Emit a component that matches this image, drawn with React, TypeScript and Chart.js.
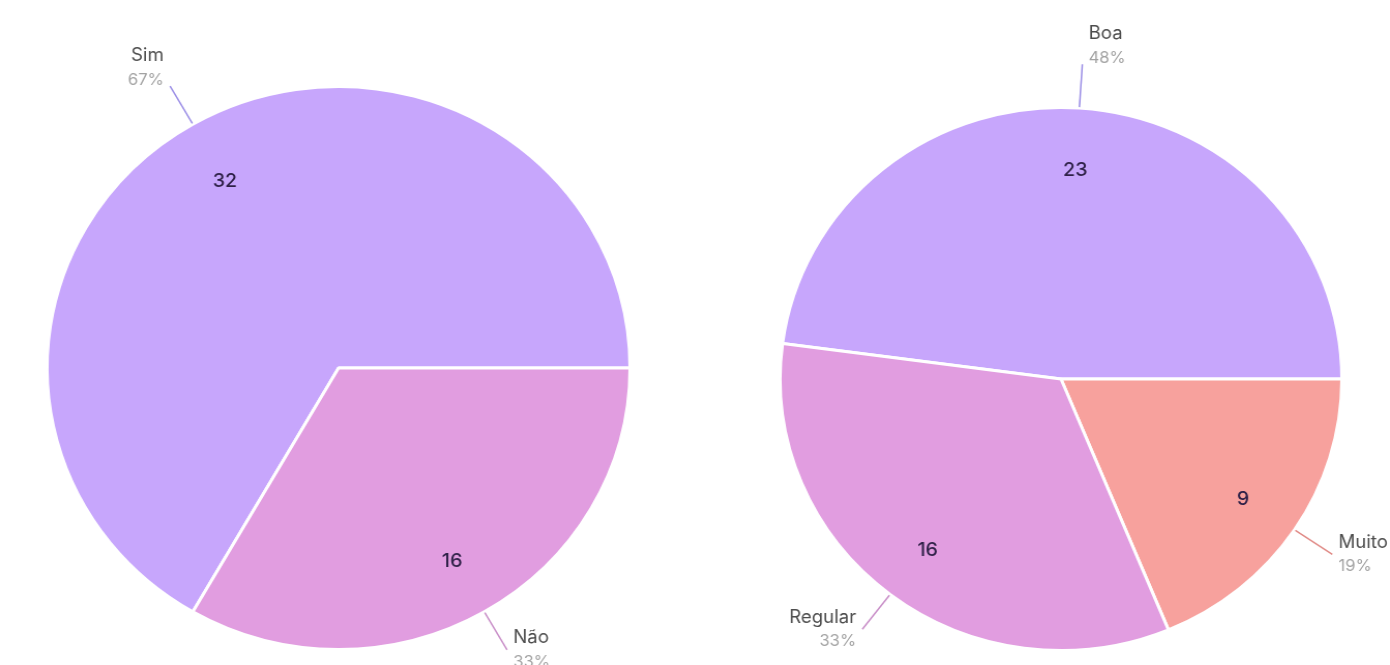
import React, { useEffect, useRef } from "react";
import { Chart, registerables } from "chart.js";

Chart.register(...registerables);

// Left pie
const leftLabels = ["Sim", "Não"];
const leftValues = [32, 16];
// Right pie
const rightLabels = ["Boa", "Muito boa", "Regular"];
const rightValues = [23, 9, 16];

const LAVENDER = "#c7a6fc";
const PINK = "#e19de0";
const SALMON = "#f7a19d";
const leftColors = [LAVENDER, PINK];
const rightColors = [LAVENDER, SALMON, PINK];
const leftLineColors = ["#9c8fe6", "#c98fc8"];
const rightLineColors = ["#9c8fe6", "#e08a86", "#c98fc8"];

const FONT = "Inter, 'Noto Sans', sans-serif";
const STRETCH = 1.035; // reference image is slightly wider than tall

function makeLabelPlugin(lineColors: string[]) {
  return {
    id: "pieLabels",
    afterDatasetsDraw(chart: any) {
      const ctx = chart.ctx;
      const meta = chart.getDatasetMeta(0);
      const data = chart.data.datasets[0].data as number[];
      const labels = chart.data.labels as string[];
      const total = data.reduce((a, b) => a + b, 0);
      meta.data.forEach((arc: any, i: number) => {
        const { x, y, startAngle, endAngle, outerRadius } = arc.getProps(
          ["x", "y", "startAngle", "endAngle", "outerRadius"],
          true
        );
        const mid = (startAngle + endAngle) / 2;
        const c = Math.cos(mid);
        const s = Math.sin(mid);
        ctx.save();
        // value inside
        ctx.fillStyle = "#2f2148";
        ctx.font = `500 19px ${FONT}`;
        ctx.textAlign = "center";
        ctx.textBaseline = "middle";
        const vr = outerRadius * 0.78;
        ctx.fillText(String(data[i]), x + c * vr, y + s * vr + 3);
        // leader line
        const r1 = outerRadius + 1;
        const r2 = outerRadius + 44;
        const ex = x + c * r2;
        const ey = y + s * r2;
        ctx.strokeStyle = lineColors[i];
        ctx.lineWidth = 1.5;
        ctx.beginPath();
        ctx.moveTo(x + c * r1, y + s * r1);
        ctx.lineTo(ex, ey);
        ctx.stroke();
        // outer text
        const left = c >= 0;
        ctx.textAlign = left ? "left" : "right";
        const tx = left ? ex + 6 : ex - 6;
        const upper = s < -0.5;
        const nameY = upper ? ey - 31 : ey - 12;
        const pctY = upper ? ey - 6 : ey + 12;
        ctx.textBaseline = "middle";
        ctx.fillStyle = "#4d4d4d";
        ctx.font = `400 18px ${FONT}`;
        ctx.fillText(labels[i], tx, nameY);
        ctx.fillStyle = "#a3a3a3";
        ctx.font = `400 16px ${FONT}`;
        ctx.fillText(Math.round((data[i] / total) * 100) + "%", tx, pctY);
        ctx.restore();
      });
    },
  };
}

function PieCanvas(props: {
  labels: string[];
  values: number[];
  colors: string[];
  lineColors: string[];
  rotation: number;
  padding: { left: number; right: number; top: number; bottom: number };
  width: number;
  height: number;
  left: number;
}) {
  const ref = useRef<HTMLCanvasElement>(null);
  useEffect(() => {
    if (!ref.current) return;
    const chart = new Chart(ref.current, {
      type: "pie",
      data: {
        labels: props.labels,
        datasets: [
          {
            data: props.values,
            backgroundColor: props.colors,
            borderColor: "#ffffff",
            borderWidth: 3,
          },
        ],
      },
      options: {
        responsive: false,
        animation: false,
        rotation: props.rotation,
        layout: { padding: props.padding },
        plugins: {
          legend: { display: false },
          tooltip: { enabled: false },
        },
      },
      plugins: [makeLabelPlugin(props.lineColors)],
    });
    return () => chart.destroy();
  }, []);
  return (
    <canvas
      ref={ref}
      width={props.width}
      height={props.height}
      style={{
        position: "absolute",
        left: props.left,
        top: 0,
        width: props.width * STRETCH,
        height: props.height,
      }}
    />
  );
}

export default function App() {
  return (
    <div
      style={{
        position: "fixed",
        left: 0,
        top: 0,
        width: 1390,
        height: 665,
        background: "#ffffff",
        overflow: "hidden",
      }}
    >
      <PieCanvas
        labels={leftLabels}
        values={leftValues}
        colors={leftColors}
        lineColors={leftLineColors}
        rotation={210}
        padding={{ left: 44, right: 70, top: 85, bottom: 14 }}
        width={680}
        height={665}
        left={0}
      />
      <PieCanvas
        labels={rightLabels}
        values={rightValues}
        colors={rightColors}
        lineColors={rightLineColors}
        rotation={277.5}
        padding={{ left: 76, right: 48, top: 106, bottom: 13 }}
        width={670}
        height={665}
        left={700}
      />
    </div>
  );
}
